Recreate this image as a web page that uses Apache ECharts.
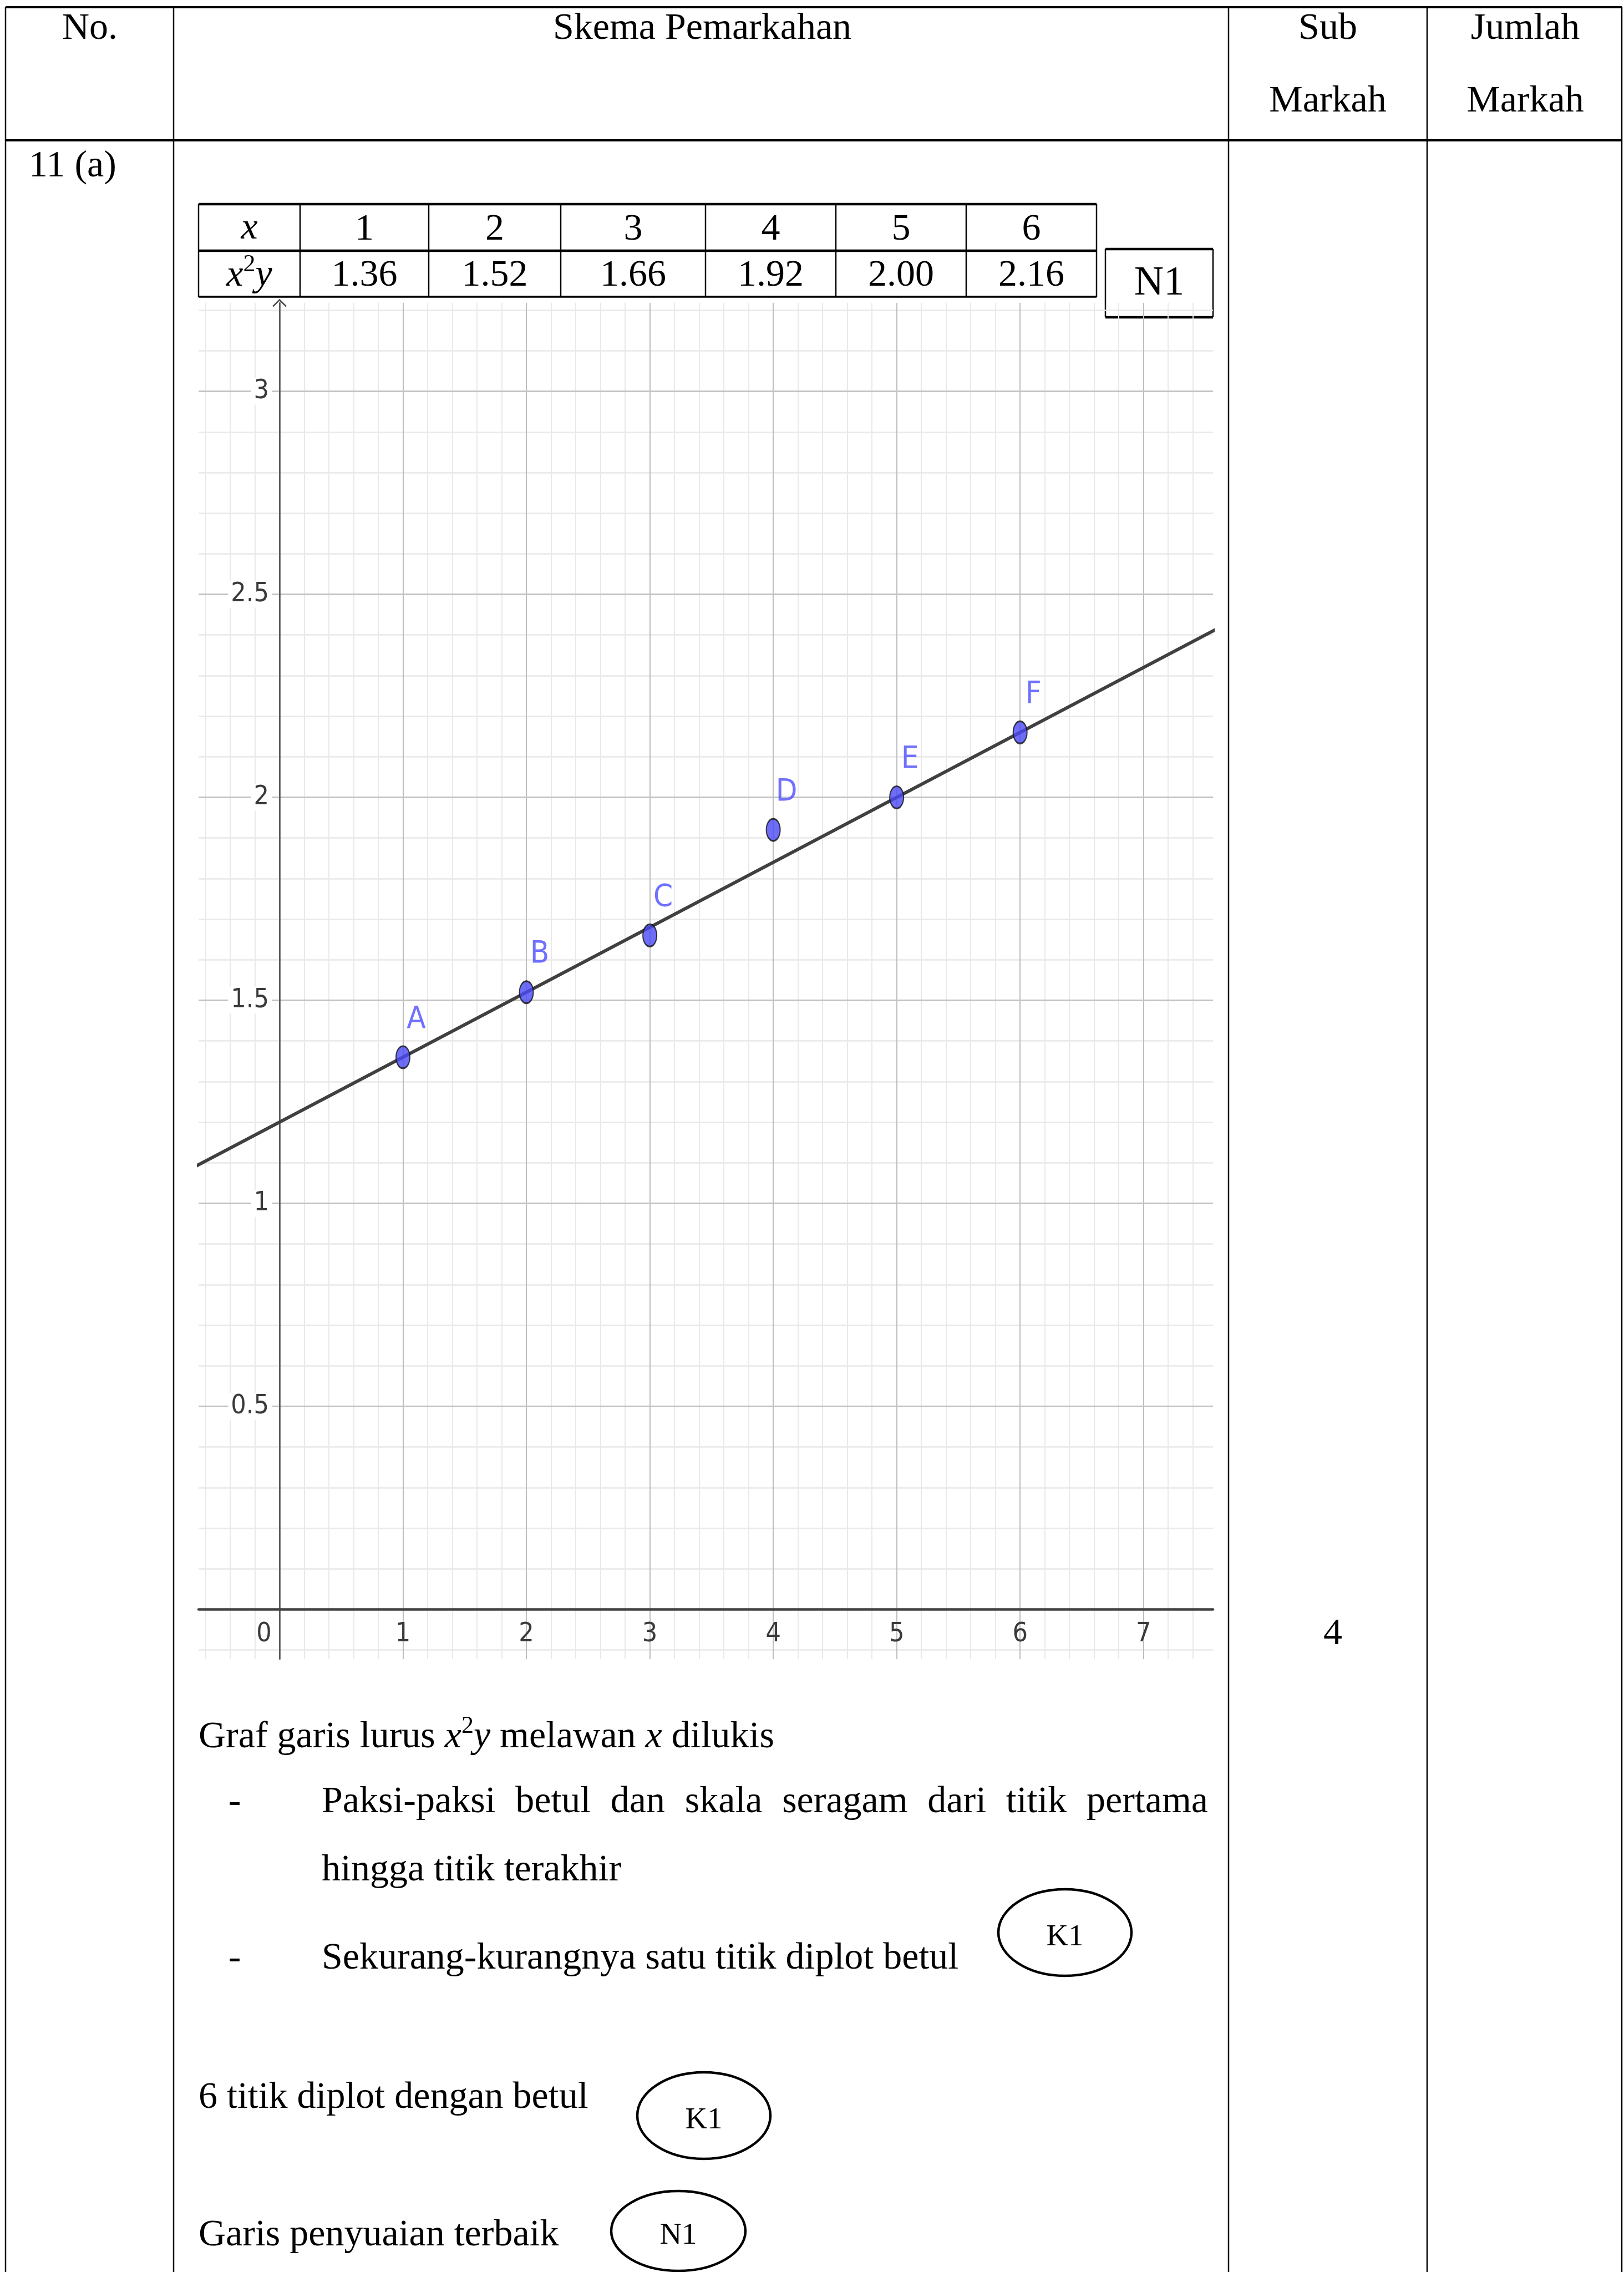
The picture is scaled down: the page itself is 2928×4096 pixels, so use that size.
<!DOCTYPE html>
<html>
<head>
<meta charset="utf-8">
<script src="https://cdn.jsdelivr.net/npm/echarts@6/dist/echarts.min.js"></script>
<style>
html, body { margin: 0; padding: 0; background: #fff; }
#main { width: 2928px; height: 4096px; }
</style>
</head>
<body>
<div id="main"></div>
<script>
const xVals = [1, 2, 3, 4, 5, 6];
const x2yVals = [1.36, 1.52, 1.66, 1.92, 2.00, 2.16];
const x2yText = ['1.36', '1.52', '1.66', '1.92', '2.00', '2.16'];
const pointNames = ['A', 'B', 'C', 'D', 'E', 'F'];
// ends of the line of best fit
const fitX = [-0.7, 7.6];
const fitY = [1.088, 2.416];
// tick labels of the graph
const xTickLabels = ['0', '1', '2', '3', '4', '5', '6', '7'];
const yTickLabels = ['0.5', '1', '1.5', '2', '2.5', '3'];

const SERIF = "'Liberation Serif', 'Times New Roman', serif";
const GG = "'DejaVu Sans Condensed', 'Liberation Sans Narrow', 'Liberation Sans', sans-serif";

// gridlines of the graph paper (0.2 by 0.1, darker every 1 by 0.5)
const minorX = [], majorX = [], minorY = [], majorY = [];
for (let i = -3; i <= 37; i++) {
  const v = +(i * 0.2).toFixed(2);
  (i % 5 === 0 ? majorX : minorX).push(v);
}
for (let i = -1; i <= 32; i++) {
  const v = +(i * 0.1).toFixed(2);
  (i % 5 === 0 ? majorY : minorY).push(v);
}

function hline(x1, x2, y, w) {
  return { type: 'line', silent: true, shape: { x1: x1, y1: y, x2: x2, y2: y }, style: { stroke: '#000', lineWidth: w } };
}
function vline(x, y1, y2, w) {
  return { type: 'line', silent: true, shape: { x1: x, y1: y1, x2: x, y2: y2 }, style: { stroke: '#000', lineWidth: w } };
}
function txt(text, x, y, extra) {
  return {
    type: 'text', silent: true, x: x, y: y,
    style: Object.assign({ text: text, fill: '#000', fontSize: 68, fontFamily: SERIF, align: 'center', verticalAlign: 'middle' }, extra || {})
  };
}
const mathRich = {
  i: { fontStyle: 'italic', fontSize: 68, fontFamily: SERIF, lineHeight: 84 },
  s: { fontSize: 44, fontFamily: SERIF, verticalAlign: 'top', lineHeight: 44 },
  n: { fontSize: 68, fontFamily: SERIF, lineHeight: 84 }
};
function oval(cx, cy, rx, ry, label) {
  return [
    { type: 'ellipse', silent: true, shape: { cx: cx, cy: cy, rx: rx, ry: ry }, style: { fill: 'none', stroke: '#000', lineWidth: 4.5 } },
    txt(label, cx, cy + 9, { fontSize: 55 })
  ];
}

const g = [];
// outer table
g.push(hline(10, 2924, 13, 4));
g.push(hline(10, 2924, 253, 4));
[10, 313, 2215, 2573, 2924].forEach(x => g.push(vline(x, 13, 4096, 2.5)));
g.push(txt('No.', 162, 52));
g.push(txt('Skema Pemarkahan', 1266, 52));
g.push(txt('Sub', 2394, 52));
g.push(txt('Markah', 2394, 183));
g.push(txt('Jumlah', 2750, 52));
g.push(txt('Markah', 2750, 183));
g.push(txt('11 (a)', 52, 300, { align: 'left' }));
g.push(txt('4', 2403, 2946));

// small data table
const cols = [358, 541, 773, 1011, 1272, 1507, 1742, 1977];
const rows = [368, 452, 535];
g.push(hline(cols[0], cols[7], rows[0], 4.5));
g.push(hline(cols[0], cols[7], rows[1], 4.5));
g.push(hline(cols[0], cols[7], rows[2], 3.5));
cols.forEach(x => g.push(vline(x, rows[0], rows[2], 2.5)));
g.push(txt('{i|x}', (cols[0] + cols[1]) / 2, 412, { rich: mathRich }));
g.push(txt('{i|x}{s|2}{i|y}', (cols[0] + cols[1]) / 2, 497, { rich: mathRich }));
xVals.forEach((v, k) => {
  const cx = (cols[k + 1] + cols[k + 2]) / 2;
  g.push(txt(String(v), cx, 414));
  g.push(txt(x2yText[k], cx, 497));
});
// N1 box
g.push(hline(1993, 2187, 449, 4.5));
g.push(hline(1993, 2187, 572, 4.5));
g.push(vline(1993, 449, 572, 2.5));
g.push(vline(2187, 449, 572, 2.5));
g.push(txt('N1', 2090, 512, { fontSize: 74 }));

// marking text below the graph
g.push(txt('Graf garis lurus {i|x}{s|2}{i|y}{n| melawan }{i|x}{n| dilukis}', 358, 3132, { align: 'left', rich: mathRich }));
g.push(txt('-', 423, 3249));
g.push(txt('-', 423, 3531));
(function () {
  const line = 'Paksi-paksi betul dan skala seragam dari titik pertama';
  const words = line.split(' ');
  const ctx = document.createElement('canvas').getContext('2d');
  ctx.font = '68px ' + SERIF;
  const widths = words.map(w => ctx.measureText(w).width);
  const left = 580, right = 2178;
  const gap = (right - left - widths.reduce((a, b) => a + b, 0)) / (words.length - 1);
  let x = left;
  words.forEach((w, k) => {
    g.push(txt(w, x, 3249, { align: 'left' }));
    x += widths[k] + gap;
  });
})();
g.push(txt('hingga titik terakhir', 580, 3372, { align: 'left' }));
g.push(txt('Sekurang-kurangnya satu titik diplot betul', 580, 3531, { align: 'left' }));
g.push(txt('6 titik diplot dengan betul', 358, 3782, { align: 'left' }));
g.push(txt('Garis penyuaian terbaik', 358, 4030, { align: 'left' }));
oval(1920, 3484, 120, 78, 'K1').forEach(e => g.push(e));
oval(1269, 3814, 120, 78, 'K1').forEach(e => g.push(e));
oval(1223, 4022, 121, 72, 'N1').forEach(e => g.push(e));

const chart = echarts.init(document.getElementById('main'));
chart.setOption({
  backgroundColor: '#fff',
  animation: false,
  grid: { left: 358, top: 546, width: 1829, height: 2445, containLabel: false, outerBoundsMode: 'none' },
  xAxis: {
    type: 'value', min: -0.656, max: 7.563, minInterval: 1, maxInterval: 1, z: 3,
    axisLine: { onZero: true, lineStyle: { color: '#404040', width: 4.5 } },
    axisTick: { show: false },
    splitLine: { show: false },
    axisLabel: {
      // labels sit at the grid edge, pull them up under the zero line
      margin: -68, fontSize: 48, fontFamily: GG, color: '#3a3a3a',
      formatter: v => {
        const s = String(v);
        if (!xTickLabels.includes(s)) return '';
        return s === '0' ? '{z|0}' : s;
      },
      rich: { z: { fontSize: 48, fontFamily: GG, color: '#3a3a3a', padding: [0, 56, 0, 0] } }
    }
  },
  yAxis: {
    type: 'value', min: -0.1224, max: 3.218, minInterval: 0.5, maxInterval: 0.5, z: 3,
    axisLine: {
      onZero: true,
      symbol: ['none', 'path://M0,12 L12,0 L24,12 L22,13.5 L12,3.5 L2,13.5 Z'],
      symbolSize: [26, 22],
      lineStyle: { color: '#4a4a4a', width: 2.5 }
    },
    axisTick: { show: false },
    splitLine: { show: false },
    axisLabel: {
      margin: -132, fontSize: 48, fontFamily: GG, color: '#3a3a3a',
      backgroundColor: '#fff', padding: [0, 5],
      formatter: v => (yTickLabels.includes(String(v)) ? String(v) : '')
    }
  },
  series: [
    {
      name: 'paper', type: 'scatter', data: [], z: 1, silent: true,
      markLine: {
        silent: true, symbol: 'none', animation: false, z: 1,
        label: { show: false },
        emphasis: { disabled: true },
        data: [].concat(
          minorX.map(v => ({ xAxis: v, lineStyle: { color: '#e9e9e9', width: 2, type: 'solid' } })),
          minorY.map(v => ({ yAxis: v, lineStyle: { color: '#e9e9e9', width: 2.5, type: 'solid' } })),
          majorX.map(v => ({ xAxis: v, lineStyle: { color: '#bdbdbd', width: 2, type: 'solid' } })),
          majorY.map(v => ({ yAxis: v, lineStyle: { color: '#c4c4c4', width: 3, type: 'solid' } }))
        )
      }
    },
    {
      name: 'fit', type: 'line', z: 4, silent: true, clip: true,
      data: fitX.map((x, k) => [x, fitY[k]]),
      symbol: 'none',
      lineStyle: { color: '#404040', width: 6 }
    },
    {
      name: 'points', type: 'scatter', z: 5, silent: true,
      data: xVals.map((x, k) => ({ value: [x, x2yVals[k]], name: pointNames[k] })),
      symbol: 'circle', symbolSize: [25, 40],
      itemStyle: { color: '#4848f6', borderColor: '#111', borderWidth: 2.5 },
      label: {
        show: true, formatter: p => p.name, position: 'inside', offset: [24, -68],
        fontSize: 56, fontFamily: GG, color: '#4d4dff'
      }
    }
  ],
  graphic: g
});
</script>
</body>
</html>
